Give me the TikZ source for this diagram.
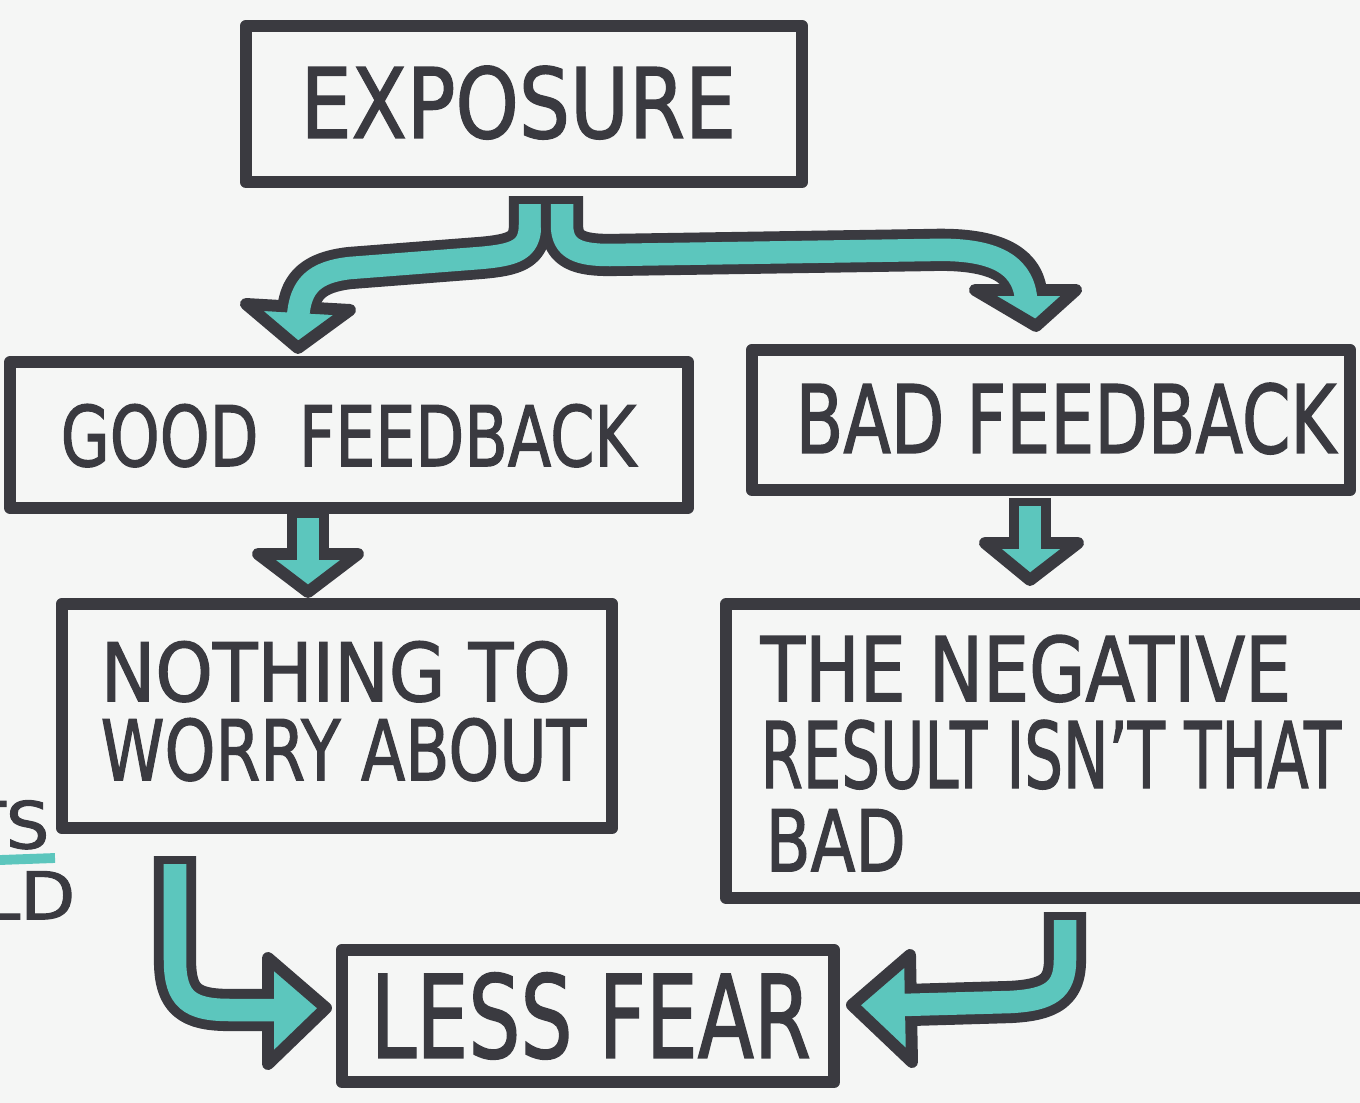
\documentclass[tikz,border=0pt]{standalone}
\usepackage{fontspec}
\setmainfont{DejaVu Sans}[FakeBold=1.6]
\usepackage{graphicx}
\definecolor{ink}{HTML}{3A3A40}
\definecolor{aqua}{HTML}{5CC6BD}
\definecolor{paper}{HTML}{F5F6F5}
\newcommand\hw[3]{\resizebox{#1cm}{#2cm}{#3}}
\tikzset{
  box/.style={draw=ink, line width=3.4pt, line join=round, rectangle, inner sep=0pt},
  lbl/.style={inner sep=0pt, anchor=south west, text=ink},
  shaftout/.style={draw=ink, line width=12pt, line cap=butt, line join=round},
  shaftin/.style={draw=aqua, line width=6.4pt, line cap=butt, line join=round},
  head/.style={fill=aqua, draw=ink, line width=3.4pt, line join=round}
}
\begin{document}
\begin{tikzpicture}[x=0.01cm,y=-0.01cm]
\useasboundingbox (0,0) rectangle (1360,1103);
\clip (0,0) rectangle (1360,1103);
\fill[paper] (0,0) rectangle (1360,1103);

% boxes
\node[box, minimum width=5.56cm, minimum height=1.56cm] (exp) at (524,104) {};
\node[box, minimum width=6.78cm, minimum height=1.45cm] (good) at (349,435) {};
\node[box, minimum width=5.98cm, minimum height=1.40cm] (bad) at (1051,420) {};
\node[box, minimum width=5.50cm, minimum height=2.24cm] (noth) at (337,716) {};
\node[box, minimum width=6.39cm, minimum height=2.94cm] (neg) at (1046,751) {};
\node[box, minimum width=4.92cm, minimum height=1.32cm] (less) at (588,1016) {};

% texts
\node[lbl] (t1) at (300,140) {\hw{4.35}{0.72}{EXPOSURE}};
\node[lbl] (t2) at (60,468) {\hw{5.75}{0.62}{GOOD\ \ FEEDBACK}};
\node[lbl] (t3) at (795,455) {\hw{5.40}{0.70}{BAD FEEDBACK}};
\node[lbl] (t4) at (100,703) {\hw{4.70}{0.60}{NOTHING TO}};
\node[lbl] (t5) at (100,782) {\hw{4.85}{0.62}{WORRY ABOUT}};
\node[lbl] (t6) at (760,703) {\hw{5.30}{0.66}{THE NEGATIVE}};
\node[lbl] (t7) at (760,790) {\hw{5.80}{0.68}{RESULT ISN'T THAT}};
\node[lbl] (t8) at (765,872) {\hw{1.40}{0.62}{BAD}};
\node[lbl] (t9) at (370,1060) {\hw{4.40}{0.85}{LESS FEAR}};

% left fragments
\node[inner sep=0pt, anchor=south east, text=ink] (f1) at (50,850) {\hw{0.85}{0.48}{TS}};
\draw[aqua, line width=2.8pt] (0,860) -- (55,858);
\node[inner sep=0pt, anchor=south east, text=ink] (f2) at (76,920) {\hw{0.95}{0.48}{LD}};

% named arrow ends
\coordinate (a1s) at (530,196);
\coordinate (a2s) at (562,196);
\coordinate (a3s) at (308,510);
\coordinate (a4s) at (1030,498);
\coordinate (a5s) at (175,856);
\coordinate (a6s) at (1065,912);

% arrow 1: exposure -> good feedback
\draw[shaftout] (a1s) -- (530,225) .. controls (530,250) and (515,255) .. (480,258) -- (350,268) .. controls (315,272) and (300,285) .. (298,312);
\draw[head] (246,304) -- (350,310) -- (298,348) -- cycle;
\draw[shaftin] (530,204) -- (530,225) .. controls (530,250) and (515,255) .. (480,258) -- (350,268) .. controls (315,272) and (300,285) .. (298,318);

% arrow 2: exposure -> bad feedback
\draw[shaftout] (a2s) -- (562,225) .. controls (562,250) and (580,255) .. (610,255) -- (930,250) .. controls (990,248) and (1022,262) .. (1026,292);
\draw[head] (975,290) -- (1076,290) -- (1036,326) -- cycle;
\draw[shaftin] (562,204) -- (562,225) .. controls (562,250) and (580,255) .. (610,255) -- (930,250) .. controls (990,248) and (1022,262) .. (1026,298);

% arrow 3: good -> nothing
\draw[shaftout] (a3s) -- (308,556);
\draw[head] (258,554) -- (358,554) -- (308,592) -- cycle;
\draw[shaftin] (308,518) -- (308,562);

% arrow 4: bad -> negative
\draw[shaftout] (a4s) -- (1030,545);
\draw[head] (985,543) -- (1078,543) -- (1030,580) -- cycle;
\draw[shaftin] (1030,506) -- (1030,551);

% arrow 5: nothing -> less fear
\draw[shaftout] (a5s) -- (175,960) .. controls (175,1000) and (190,1010) .. (230,1010) -- (270,1010);
\draw[head] (268,958) -- (268,1064) -- (326,1008) -- cycle;
\draw[shaftin] (175,864) -- (175,960) .. controls (175,1000) and (190,1010) .. (230,1010) -- (276,1010);

% arrow 6: negative -> less fear
\draw[shaftout] (a6s) -- (1065,960) .. controls (1065,990) and (1050,1000) .. (1010,1002) -- (908,1005);
\draw[head] (910,955) -- (912,1062) -- (852,1005) -- cycle;
\draw[shaftin] (1065,920) -- (1065,960) .. controls (1065,990) and (1050,1000) .. (1010,1002) -- (902,1005);
\end{tikzpicture}
\end{document}
